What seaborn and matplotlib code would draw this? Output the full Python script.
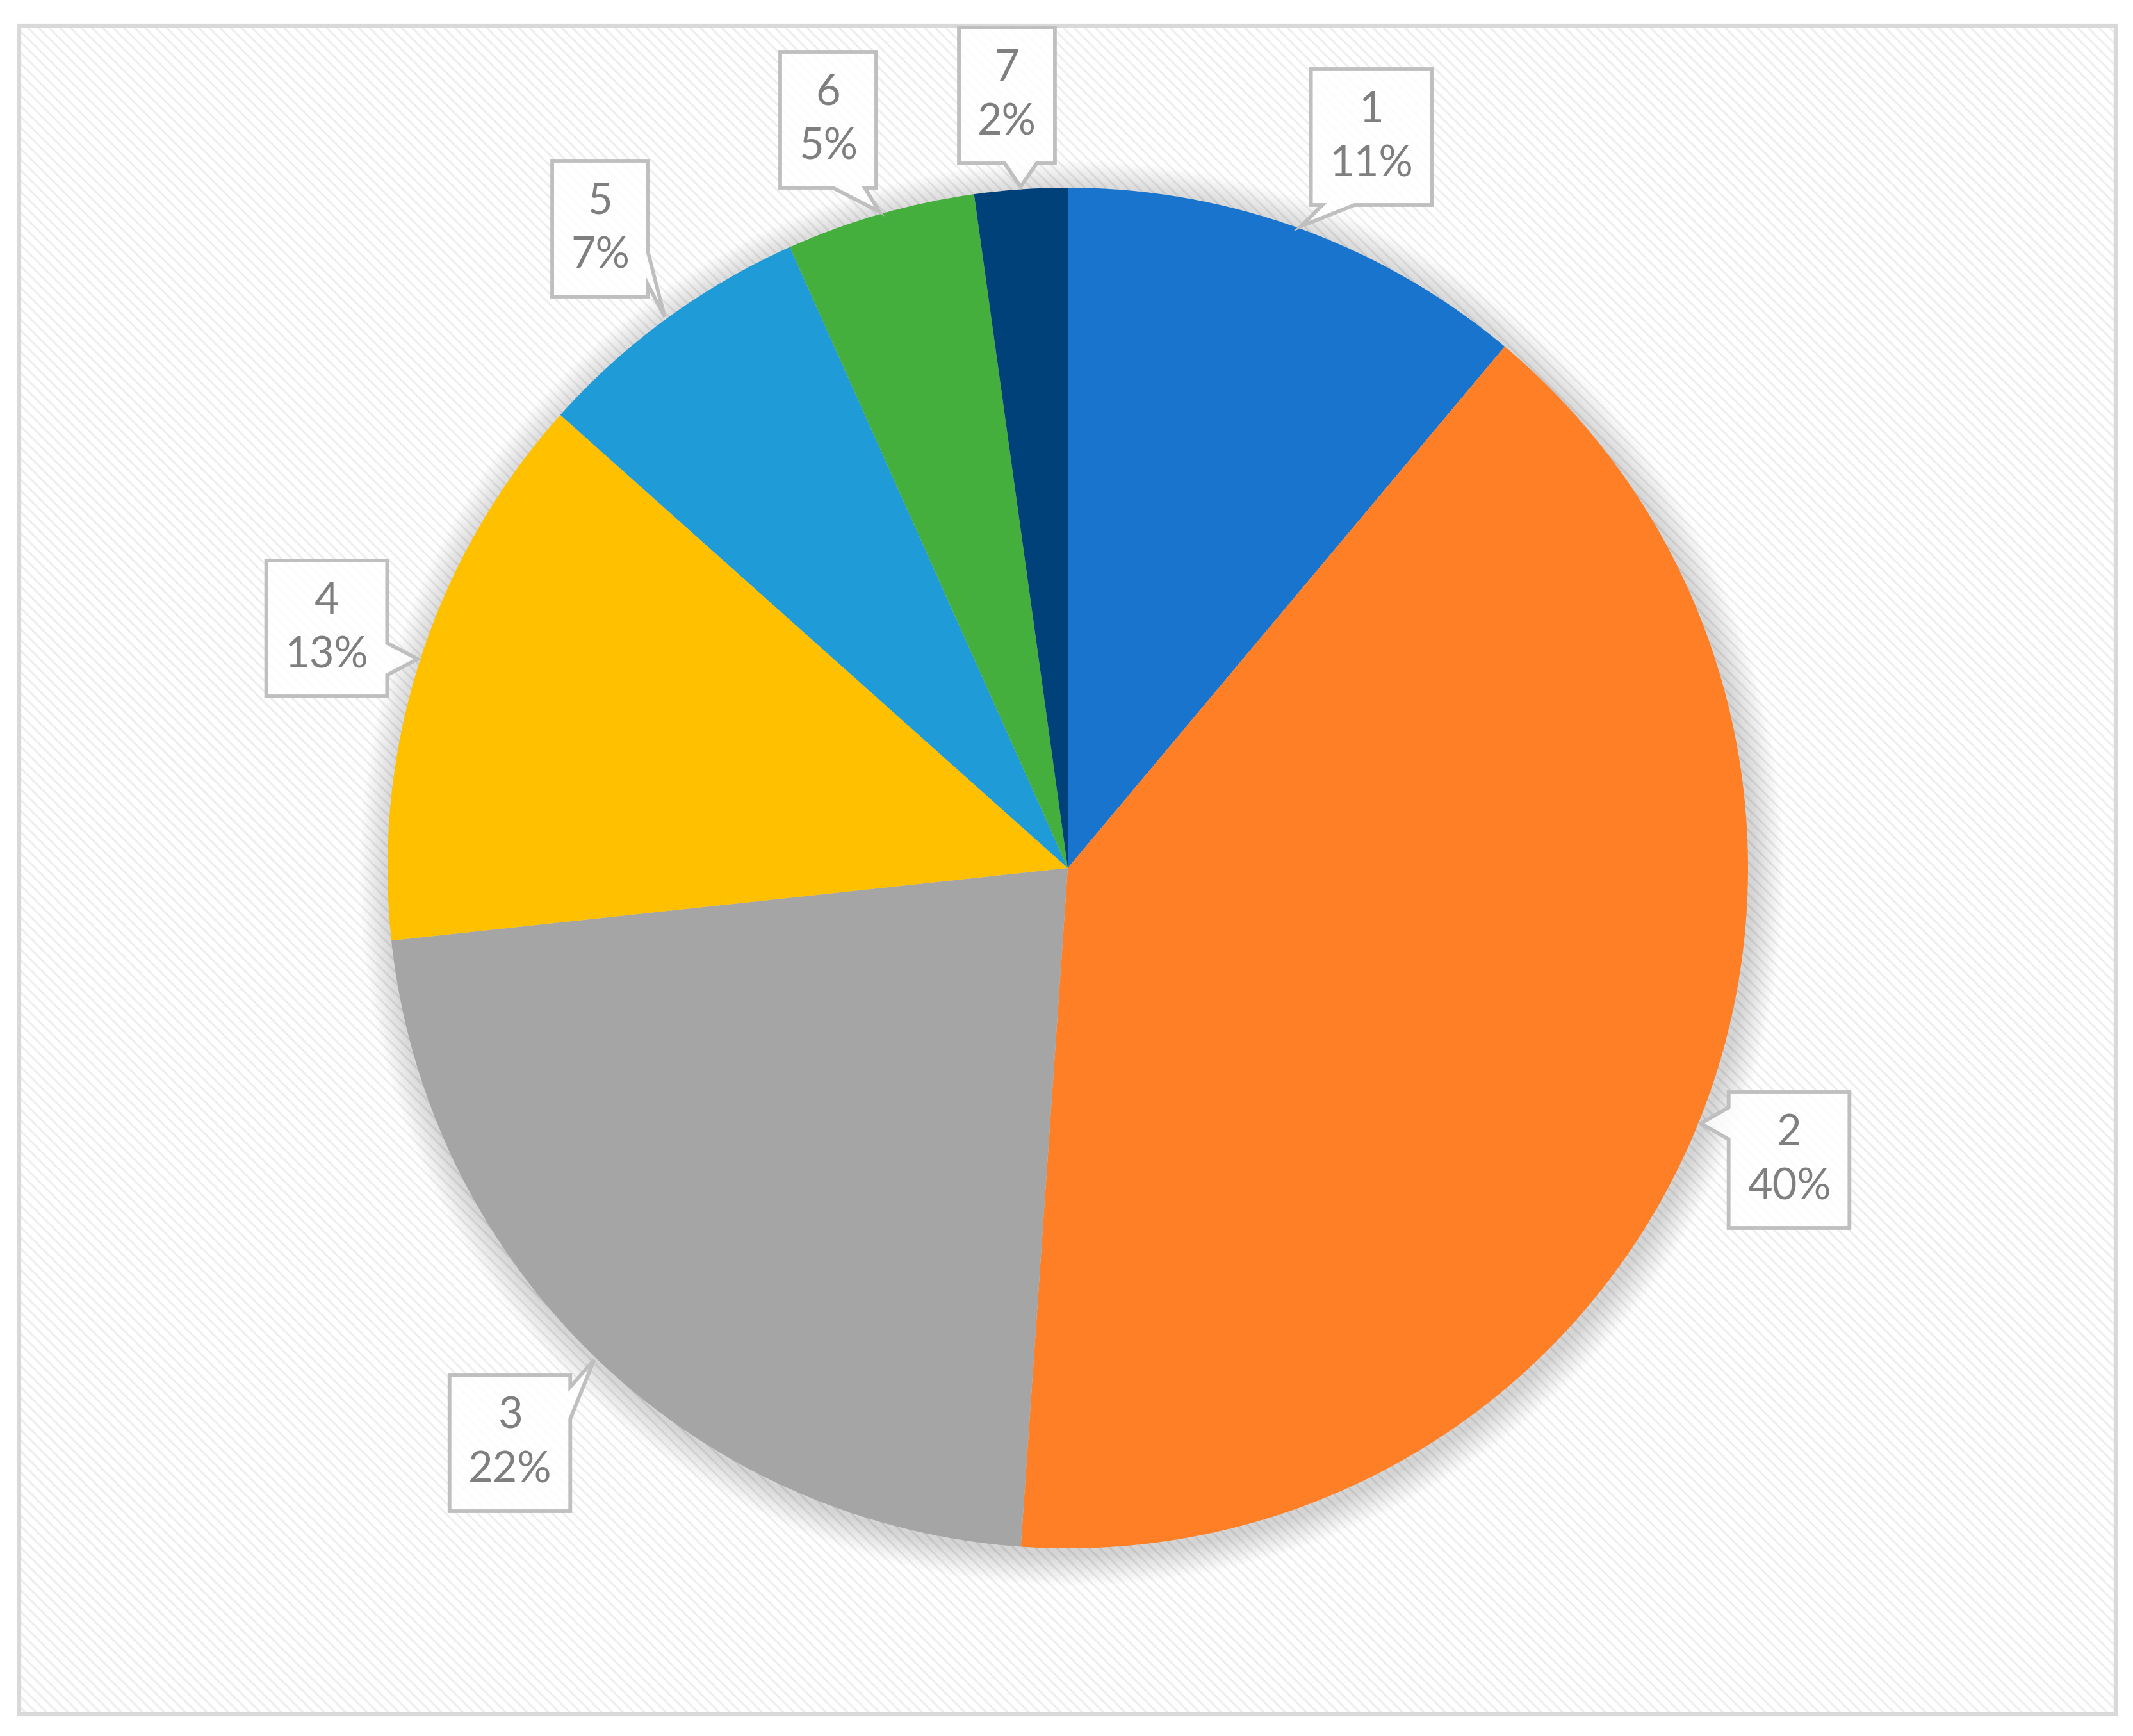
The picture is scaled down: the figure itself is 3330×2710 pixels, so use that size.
import matplotlib
matplotlib.use('Agg')
import matplotlib.pyplot as plt
import matplotlib.patches as mpatches
import numpy as np
import seaborn as sns

# data
categories = ['1', '2', '3', '4', '5', '6', '7']
shares = [11.1, 40.0, 22.2, 13.3, 6.7, 4.5, 2.2]
slice_colors = ['#1874CD', '#FE7F26', '#A5A5A5', '#FFC000', '#1F9BD7', '#44AF3C', '#00417A']

# label box centres (figure pixels, y measured from bottom)
label_centres = [(2141, 2496), (2793, 899), (796, 457), (510, 1729),
                 (937, 2353), (1293, 2523), (1572, 2561)]

sns.set_style('white')
plt.rcParams['font.family'] = ['Lato', 'DejaVu Sans']
plt.rcParams['hatch.linewidth'] = 0.75

W, H = 3330, 2710
dpi = 300
fig = plt.figure(figsize=(W / dpi, H / dpi), dpi=dpi)
ax = fig.add_axes([0, 0, 1, 1])

# patterned chart area with light grey frame
ax.add_patch(mpatches.Rectangle((30, 34), 3273, 2636, facecolor='white',
                                edgecolor='#eeeeee', hatch='\\' * 6, lw=0, zorder=0))
ax.add_patch(mpatches.Rectangle((30, 34), 3273, 2636, fill=False,
                                edgecolor='#d9d9d9', lw=1.5, zorder=1))

cx, cy, r = 1667, 1355, 1062

# soft shadow around the pie
for k in range(14):
    ax.add_patch(mpatches.Circle((cx + 6, cy - 8), r + 4 + k * 3.5, facecolor='black',
                                 alpha=0.012, lw=0, zorder=2))

wedges, _ = ax.pie(shares, colors=slice_colors, startangle=90, counterclock=False,
                   center=(cx, cy), radius=r, frame=True,
                   wedgeprops=dict(linewidth=0))
for w in wedges:
    w.set_zorder(3)
ax.set_xlim(0, W)
ax.set_ylim(0, H)
ax.set_aspect('equal')
ax.axis('off')


def callout_shape(bx, by, hw, hh, tip, base=50, margin=18):
    x0, x1, y0, y1 = bx - hw, bx + hw, by - hh, by + hh
    dx, dy = tip[0] - bx, tip[1] - by
    corners = [(x0, y0), (x1, y0), (x1, y1), (x0, y1)]
    if abs(dx) / hw > abs(dy) / hh:
        edge = 1 if dx > 0 else 3
    else:
        edge = 0 if dy < 0 else 2
    if edge in (0, 2):
        c = np.clip(tip[0], x0 + base / 2 + margin, x1 - base / 2 - margin)
        y = y0 if edge == 0 else y1
        a, b = (c - base / 2, y), (c + base / 2, y)
        notch = [a, tip, b] if edge == 0 else [b, tip, a]
    else:
        c = np.clip(tip[1], y0 + base / 2 + margin, y1 - base / 2 - margin)
        x = x1 if edge == 1 else x0
        a, b = (x, c - base / 2), (x, c + base / 2)
        notch = [a, tip, b] if edge == 1 else [b, tip, a]
    verts = []
    for i in range(4):
        verts.append(corners[i])
        if i == edge:
            verts += notch
    return verts


renderer = fig.canvas.get_renderer()
for w, cat, val, (tx, ty) in zip(wedges, categories, shares, label_centres):
    mid = np.deg2rad((w.theta1 + w.theta2) / 2)
    tip = (cx + (r + 4) * np.cos(mid), cy + (r + 4) * np.sin(mid))
    txt = ax.text(tx, ty, f'{cat}\n{int(val + 0.5)}%', ha='center', va='center',
                  fontsize=16, color='#7f7f7f', linespacing=1.45, zorder=6)
    ext = txt.get_window_extent(renderer)
    hw = ext.width / 2 + 29
    hh = 106
    poly = mpatches.Polygon(callout_shape(tx, ty, hw, hh, tip), closed=True,
                            facecolor=(1, 1, 1, 0.85), edgecolor='#bfbfbf',
                            linewidth=1.4, joinstyle='miter', zorder=5)
    ax.add_patch(poly)

fig.savefig('out.png', dpi=dpi)
